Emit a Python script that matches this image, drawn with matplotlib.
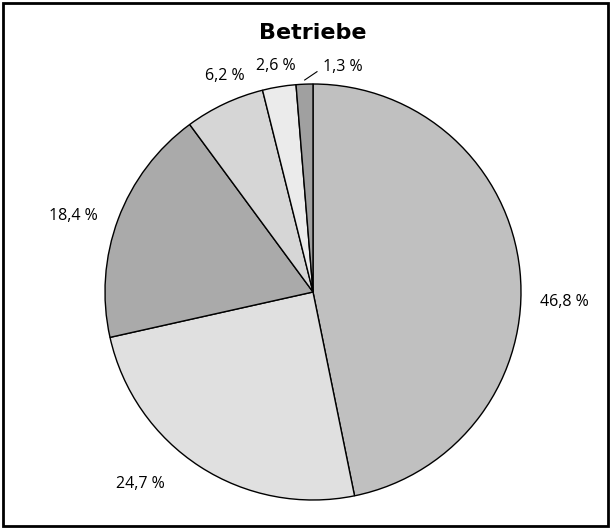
import matplotlib
matplotlib.use("Agg")
from matplotlib import pyplot as plt
from matplotlib.patches import Rectangle
import numpy as np

# Anteile der Betriebe in Prozent (im Uhrzeigersinn ab 12 Uhr)
anteile = [46.8, 24.7, 18.4, 6.2, 2.6, 1.3]
beschriftung = ["46,8 %", "24,7 %", "18,4 %", "6,2 %", "2,6 %", "1,3 %"]
farben = ["#c0c0c0", "#e0e0e0", "#aaaaaa", "#d6d6d6", "#ebebeb", "#a0a0a0"]
titel = "Betriebe"

plt.rcParams['font.family'] = ['Open Sans', 'DejaVu Sans']

fig = plt.figure(figsize=(6.11, 5.29), dpi=100)
ax = fig.add_axes([0, 0, 1, 1])

wedges, texts = ax.pie(anteile, labels=beschriftung, colors=farben, startangle=90,
                       counterclock=False, labeldistance=1.2,
                       wedgeprops=dict(edgecolor="black", linewidth=1.0),
                       textprops=dict(fontsize=11.5))

# Mittelpunkt und Radius in Pixeln
cx, cy, r = 313, 237, 208
ax.set_aspect("auto")
ax.set_xlim(-cx / r, (611 - cx) / r)
ax.set_ylim(-cy / r, (529 - cy) / r)
ax.axis("off")

# Abstand der Beschriftungen etwas anpassen
abstand = [1.21, 1.24, 1.21, 1.12, 1.1, 1.09]
versatz = [-8, -9, 3, -3, 0, -10]
for w, t, d, v in zip(wedges, texts, abstand, versatz):
	ang = np.deg2rad((w.theta1 + w.theta2) / 2 + v)
	t.set_position((d * np.cos(ang), d * np.sin(ang)))
	t.set_ha("center")
	t.set_va("center")

# Fuehrungslinie fuer den kleinsten Anteil
w = wedges[-1]
ang = np.deg2rad((w.theta1 + w.theta2) / 2)
ax.plot([0.98 * np.cos(ang), 1.0 * np.cos(ang) + 0.06], [0.98 * np.sin(ang) + 0.04, 1.0 * np.sin(ang) + 0.06],
		color="black", linewidth=0.8)

fig.text(313 / 611, 1 - 33 / 529, titel, ha="center", va="center", fontsize=16,
		 fontweight="heavy", family="DejaVu Sans")

fig.patches.append(Rectangle((3 / 611, 3 / 529), 605 / 611, 523 / 529, transform=fig.transFigure,
							 fill=False, edgecolor="black", linewidth=2))

fig.savefig("out.png", dpi=100)
